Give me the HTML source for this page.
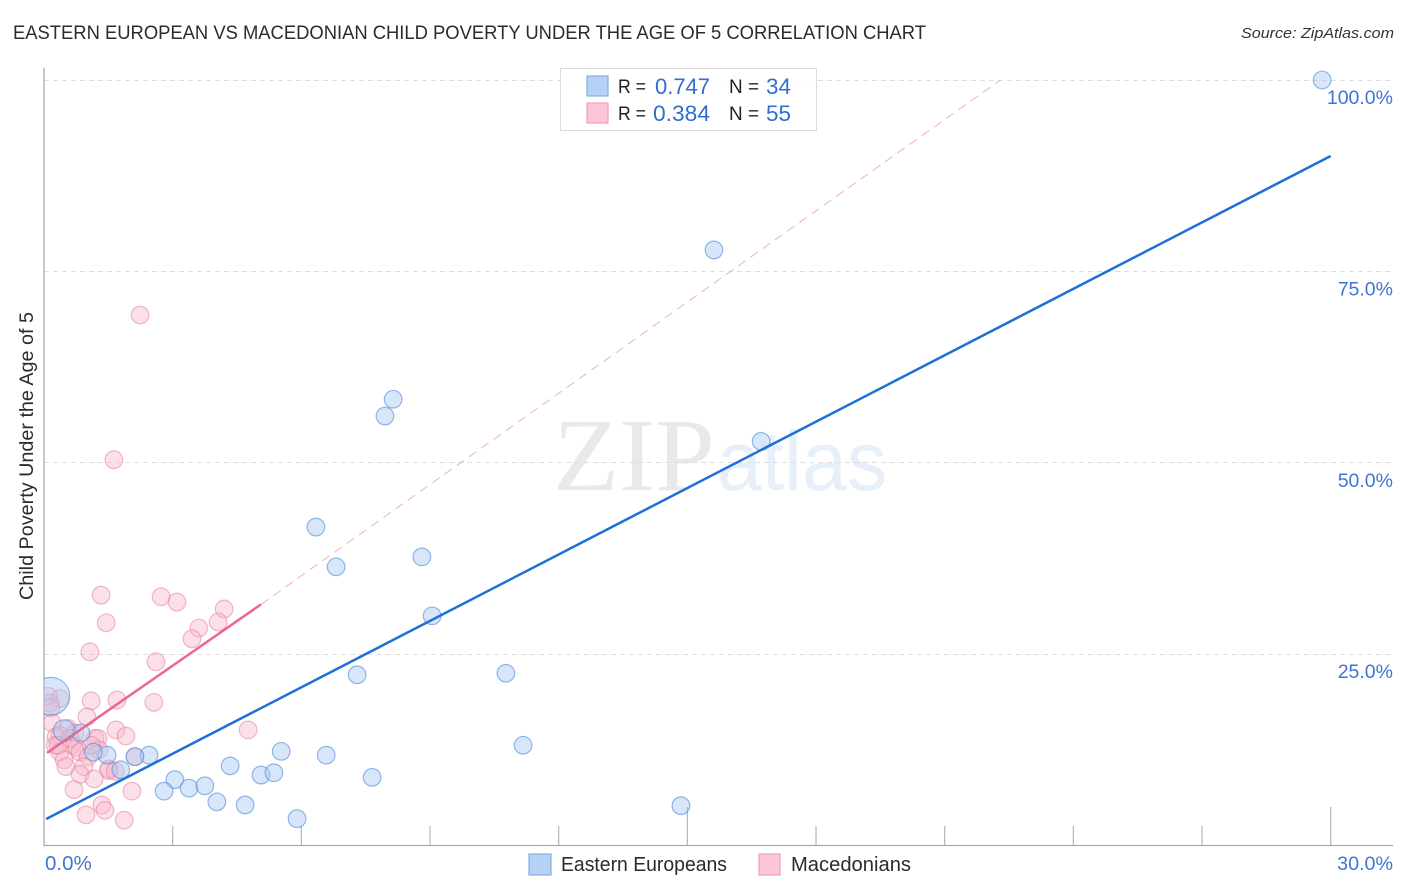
<!DOCTYPE html>
<html lang="en">
<head>
<meta charset="utf-8">
<title>Eastern European vs Macedonian Child Poverty Correlation Chart</title>
<style>
html,body{margin:0;padding:0;background:#fff;}
svg{display:block;font-family:"Liberation Sans",sans-serif;}
</style>
</head>
<body>
<svg id="chart" xmlns="http://www.w3.org/2000/svg" width="1406" height="892" viewBox="0 0 1406 892">
  <defs>
    <clipPath id="plot-clip"><rect x="44" y="60" width="1362" height="786"/></clipPath>
  </defs>
  <rect x="0" y="0" width="1406" height="892" fill="#ffffff"/>
  <text x="13" y="39" font-size="19" fill="#2b2b2b" textLength="913" lengthAdjust="spacingAndGlyphs">EASTERN EUROPEAN VS MACEDONIAN CHILD POVERTY UNDER THE AGE OF 5 CORRELATION CHART</text>
  <text x="1394" y="38" font-size="15" font-style="italic" fill="#333" text-anchor="end" textLength="153" lengthAdjust="spacingAndGlyphs">Source: ZipAtlas.com</text>
  <g>
    <text x="553" y="490" font-family="'Liberation Serif',serif" font-size="104" fill="#e9e9e9" textLength="162" lengthAdjust="spacingAndGlyphs">ZIP</text>
    <text x="717" y="490" font-family="'Liberation Sans',sans-serif" font-size="84" fill="#e7effb" textLength="170" lengthAdjust="spacingAndGlyphs">atlas</text>
  </g>
  <g id="grid"></g>
  <g id="axes"></g>
  <g id="marks-pink" clip-path="url(#plot-clip)"></g>
  <g id="marks-blue" clip-path="url(#plot-clip)"></g>
  <g id="lines"></g>
  <g id="labels"></g>
  <text transform="translate(33,456) rotate(-90)" font-size="19.5" fill="#2b2b2b" text-anchor="middle" textLength="288" lengthAdjust="spacingAndGlyphs">Child Poverty Under the Age of 5</text>

  <g>
    <rect x="560.5" y="68.5" width="256" height="62" fill="#ffffff" fill-opacity="0.9" stroke="#dcdcdc"/>
    <rect x="587" y="76" width="21" height="20" fill="#b5d2f6" stroke="#86aee0" stroke-width="1.2"/>
    <rect x="587" y="103" width="21" height="20" fill="#fcc6d8" stroke="#f0a0bb" stroke-width="1.2"/>
    <text x="618" y="93" font-size="19.5" fill="#222" textLength="28" lengthAdjust="spacingAndGlyphs">R =</text>
    <text x="655" y="94" font-size="22" fill="#2f6fd0" textLength="55" lengthAdjust="spacingAndGlyphs">0.747</text>
    <text x="729" y="93" font-size="19.5" fill="#222" textLength="30" lengthAdjust="spacingAndGlyphs">N =</text>
    <text x="766" y="94" font-size="22" fill="#2f6fd0" textLength="25" lengthAdjust="spacingAndGlyphs">34</text>
    <text x="618" y="120" font-size="19.5" fill="#222" textLength="28" lengthAdjust="spacingAndGlyphs">R =</text>
    <text x="653" y="121" font-size="22" fill="#2f6fd0" textLength="57" lengthAdjust="spacingAndGlyphs">0.384</text>
    <text x="729" y="120" font-size="19.5" fill="#222" textLength="30" lengthAdjust="spacingAndGlyphs">N =</text>
    <text x="766" y="121" font-size="22" fill="#2f6fd0" textLength="25" lengthAdjust="spacingAndGlyphs">55</text>
  </g>

  <g>
    <rect x="529" y="854" width="22" height="21" fill="#b5d2f6" stroke="#86aee0" stroke-width="1.2"/>
    <text x="561" y="871" font-size="20" fill="#2b2b2b" textLength="166" lengthAdjust="spacingAndGlyphs">Eastern Europeans</text>
    <rect x="759" y="854" width="21" height="21" fill="#fcc6d8" stroke="#f0a0bb" stroke-width="1.2"/>
    <text x="791" y="871" font-size="20" fill="#2b2b2b" textLength="120" lengthAdjust="spacingAndGlyphs">Macedonians</text>
  </g>
</svg>
<script>
// Chart data (percent units)
var blueX = [29.8,15.62,8.14,7.95,16.72,6.34,8.81,6.81,9.05,7.30,10.77,11.17,5.53,6.58,2.45,1.47,2.12,1.79,1.15,0.86,0.47,4.34,3.05,2.80,3.38,3.75,5.06,5.36,4.03,4.69,5.90,7.65,14.85,0.16];
var blueY = [100,77.8,58.3,56.1,52.8,41.6,37.7,36.4,30.0,22.3,22.5,13.1,12.3,11.8,11.8,11.8,11.6,9.9,12.2,14.7,15.0,10.4,8.6,7.1,7.5,7.8,9.2,9.5,5.7,5.3,3.5,8.9,5.2,19.5];
var blueWeight = [1,1,1,1,1,1,1,1,1,1,1,1,1,1,1,1,1,1,1,1,1.5,1,1,1,1,1,1,1,1,1,1,1,1,4.6];
var pinkX = [2.24,1.63,1.33,2.73,3.10,1.45,4.20,4.06,3.61,3.45,1.07,2.61,1.10,1.70,2.56,0.37,0.1,0.14,0.16,0.19,1.0,1.68,1.91,4.76,0.56,0.37,0.28,0.72,1.19,0.65,0.77,1.26,1.28,0.26,0.37,0.84,1.03,1.51,0.47,0.51,0.93,1.51,1.66,0.84,1.17,2.05,0.70,0.98,1.35,1.42,1.87,2.12,0.61,1.10,0.33];
var pinkY = [69.3,50.4,32.7,32.5,31.8,29.1,30.9,29.2,28.4,27.0,25.3,24.0,18.9,19.0,18.7,19.2,19.5,18.6,18.0,16.0,16.8,15.1,14.3,15.1,15.3,14.4,14.2,14.7,14.0,13.1,12.8,14.0,12.5,13.1,12.2,12.2,11.6,10.0,11.2,10.3,10.3,9.8,9.7,9.3,8.7,7.1,7.3,4.0,5.3,4.6,3.3,11.6,14.0,13.1,13.1];
var blueTrendX = [0.05,30];
var blueTrendY = [3.46,90.07];
var pinkTrendX = [0.07,5.06];
var pinkTrendY = [12.1,31.5];
var pinkDashX = [5.06,22.3];
var pinkDashY = [31.5,100];
var xTicks = [0,3,6,9,12,15,18,21,24,27,30];
var yTicks = [25,50,75,100];
var xTickLabels = ["0.0%","30.0%"];
var yTickLabels = ["25.0%","50.0%","75.0%","100.0%"];

function xs(v){ return 44 + v * 42.89; }
function ys(v){ return 845.5 - v * 7.655; }

var NS = "http://www.w3.org/2000/svg";
function mk(tag, parent, attrs){
  var el = document.createElementNS(NS, tag);
  for (var k in attrs) el.setAttribute(k, attrs[k]);
  document.getElementById(parent).appendChild(el);
  return el;
}

yTicks.forEach(function(t){
  var gy = Math.floor(ys(t)) + 0.5;
  var el = mk("line", "grid", {x1:44, x2:1393, y1:gy, y2:gy, stroke:"#dedede", "stroke-width":1, "stroke-dasharray":"5 4"});
  
  
});

var yAxisLine = mk("line", "axes", {x1:44, x2:44, y1:68, y2:846, stroke:"#aaaaaa", "stroke-width":1.3});


var xAxisLine = mk("line", "axes", {x1:44, x2:1393, y1:845.5, y2:845.5, stroke:"#aaaaaa", "stroke-width":1.3});


xTicks.forEach(function(t){
  if (t === 0) return;
  var top = (t % 15 === 0) ? 807 : 826;
  var el = mk("line", "axes", {x1:xs(t), x2:xs(t), y1:845, y2:top, stroke:"#b4b4b4", "stroke-width":1.2});
  
  
});

pinkX.forEach(function(v, i){
  var el = mk("circle", "marks-pink", {cx:xs(v), cy:ys(pinkY[i]), r:8.8, fill:"#f9b6cb", "fill-opacity":0.42, stroke:"#e77f9f", "stroke-opacity":0.55, "stroke-width":1.2});
  
  
});
blueX.forEach(function(v, i){
  var el = mk("circle", "marks-blue", {cx:xs(v), cy:ys(blueY[i]), r:8.8 * Math.sqrt(blueWeight[i]), fill:"#a6c8f2", "fill-opacity":0.45, stroke:"#4e8ad8", "stroke-opacity":0.6, "stroke-width":1.2});
  
  
});

var dash = mk("line", "lines", {x1:xs(pinkDashX[0]), y1:ys(pinkDashY[0]), x2:xs(pinkDashX[1]), y2:ys(pinkDashY[1]), stroke:"#eeb0c4", "stroke-width":1, "stroke-dasharray":"9 6"});


var pinkLine = mk("line", "lines", {x1:xs(pinkTrendX[0]), y1:ys(pinkTrendY[0]), x2:xs(pinkTrendX[1]), y2:ys(pinkTrendY[1]), stroke:"#e9688f", "stroke-width":2.5});


var blueLine = mk("line", "lines", {x1:xs(blueTrendX[0]), y1:ys(blueTrendY[0]), x2:xs(blueTrendX[1]), y2:ys(blueTrendY[1]), stroke:"#1f6fd8", "stroke-width":2.5});



yTicks.forEach(function(t, i){
  var el = mk("text", "labels", {x:1393, y:ys(t) + 24, "font-size":19.5, fill:"#3f75d6", "text-anchor":"end"});
  el.textContent = yTickLabels[i];
  
  
});
var xl0 = mk("text", "labels", {x:45, y:870, "font-size":20.5, fill:"#3f75d6"});
xl0.textContent = xTickLabels[0];


var xl1 = mk("text", "labels", {x:1393, y:870, "font-size":19.7, fill:"#3f75d6", "text-anchor":"end"});
xl1.textContent = xTickLabels[1];


</script>
</body>
</html>
